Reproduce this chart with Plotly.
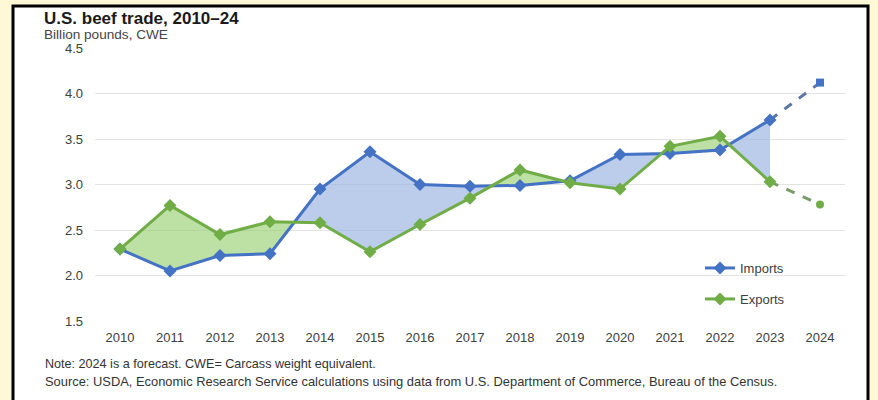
import plotly.graph_objects as go

years = [2010, 2011, 2012, 2013, 2014, 2015, 2016, 2017, 2018, 2019, 2020, 2021, 2022, 2023, 2024]
imports = [2.29, 2.05, 2.22, 2.24, 2.95, 3.36, 3.00, 2.98, 2.99, 3.04, 3.33, 3.34, 3.38, 3.71, 4.12]
exports = [2.29, 2.77, 2.45, 2.59, 2.58, 2.26, 2.56, 2.85, 3.16, 3.02, 2.95, 3.42, 3.53, 3.03, 2.78]
n_actual = 14  # 2010-2023 actual, 2024 forecast

title = "U.S. beef trade, 2010–24"
subtitle = "Billion pounds, CWE"
note1 = "Note: 2024 is a forecast. CWE= Carcass weight equivalent."
note2 = "Source: USDA, Economic Research Service calculations using data from U.S. Department of Commerce, Bureau of the Census."

BLUE = "#4472C4"
GREEN = "#70AD47"
BLUE_FILL = "rgba(150,178,225,0.65)"
GREEN_FILL = "rgba(145,205,105,0.6)"
FONT = "Arial, Liberation Sans, sans-serif"

fig = go.Figure()

def add_poly(xs, ys, color):
    fig.add_trace(go.Scatter(x=xs, y=ys, fill="toself", fillcolor=color, mode="none",
                             line=dict(width=0), showlegend=False, hoverinfo="skip"))

for i in range(n_actual - 1):
    x0, x1 = years[i], years[i + 1]
    a0, a1 = imports[i], imports[i + 1]
    b0, b1 = exports[i], exports[i + 1]
    d0, d1 = b0 - a0, b1 - a1
    if d0 * d1 >= 0:
        col = GREEN_FILL if (d0 + d1) > 0 else BLUE_FILL
        add_poly([x0, x1, x1, x0, x0], [a0, a1, b1, b0, a0], col)
    else:
        t = d0 / (d0 - d1)
        xc = x0 + t * (x1 - x0)
        yc = a0 + t * (a1 - a0)
        add_poly([x0, xc, x0, x0], [a0, yc, b0, a0], GREEN_FILL if d0 > 0 else BLUE_FILL)
        add_poly([xc, x1, x1, xc], [yc, a1, b1, yc], GREEN_FILL if d1 > 0 else BLUE_FILL)

# forecast dashed segments
fig.add_trace(go.Scatter(x=years[n_actual - 1:], y=imports[n_actual - 1:], mode="lines",
                         line=dict(color="#5b75a8", width=3, dash="dash"), showlegend=False, hoverinfo="skip"))
fig.add_trace(go.Scatter(x=years[n_actual - 1:], y=exports[n_actual - 1:], mode="lines",
                         line=dict(color="#7b9c66", width=3, dash="dash"), showlegend=False, hoverinfo="skip"))
fig.add_trace(go.Scatter(x=[years[-1]], y=[imports[-1]], mode="markers",
                         marker=dict(symbol="square", size=8, color=BLUE), showlegend=False))
fig.add_trace(go.Scatter(x=[years[-1]], y=[exports[-1]], mode="markers",
                         marker=dict(symbol="circle", size=8, color=GREEN), showlegend=False))

# actual lines
fig.add_trace(go.Scatter(x=years[:n_actual], y=imports[:n_actual], mode="lines+markers", name="Imports",
                         line=dict(color=BLUE, width=3), marker=dict(symbol="diamond", size=10, color=BLUE),
                         legend="legend"))
fig.add_trace(go.Scatter(x=years[:n_actual], y=exports[:n_actual], mode="lines+markers", name="Exports",
                         line=dict(color=GREEN, width=3), marker=dict(symbol="diamond", size=10, color=GREEN),
                         legend="legend2"))

L, R, T, B = 95, 33, 48, 79
W, H = 878, 400
pw, ph = W - L - R, H - T - B

def px(x):
    return (x - L) / pw

def py(y):
    return (H - B - y) / ph

fig.add_shape(type="rect", xref="paper", yref="paper", x0=px(13), x1=px(868), y0=py(410), y1=py(6),
              line=dict(color="black", width=3), fillcolor="white", layer="below")

fig.add_annotation(text="<b>" + title + "</b>", xref="paper", yref="paper", x=px(42), y=py(7),
                   xanchor="left", yanchor="top", showarrow=False,
                   font=dict(family=FONT, size=17, color="#1a1a1a"))
fig.add_annotation(text=subtitle, xref="paper", yref="paper", x=px(42), y=py(25),
                   xanchor="left", yanchor="top", showarrow=False,
                   font=dict(family=FONT, size=13.6, color="#444444"))
fig.add_annotation(text=note1, xref="paper", yref="paper", x=px(43), y=py(364),
                   xanchor="left", yanchor="middle", showarrow=False,
                   font=dict(family=FONT, size=12.6, color="#333333"))
fig.add_annotation(text=note2, xref="paper", yref="paper", x=px(43), y=py(381),
                   xanchor="left", yanchor="middle", showarrow=False,
                   font=dict(family=FONT, size=12.9, color="#333333"))

legend_font = dict(family=FONT, size=13, color="#404040")
fig.update_layout(
    width=W, height=H,
    margin=dict(l=L, r=R, t=T, b=B),
    paper_bgcolor="#FFF8D6",
    plot_bgcolor="white",
    font=dict(family=FONT, size=13, color="#404040"),
    legend=dict(x=px(700), y=py(268), xanchor="left", yanchor="middle", bgcolor="rgba(0,0,0,0)",
                font=legend_font, itemwidth=30),
    legend2=dict(x=px(700), y=py(299), xanchor="left", yanchor="middle", bgcolor="rgba(0,0,0,0)",
                 font=legend_font, itemwidth=30),
    xaxis=dict(range=[2009.5, 2024.5], tickvals=years, ticktext=[str(y) for y in years],
               showgrid=False, zeroline=False, showline=False, ticks="",
               ticklabelstandoff=7, tickfont=dict(size=13, color="#404040")),
    yaxis=dict(range=[1.5, 4.5], dtick=0.5, tick0=1.5, tickformat=".1f", showgrid=True,
               gridcolor="#e3e3e3", gridwidth=1, zeroline=False, showline=False, ticks="",
               ticklabelstandoff=11, tickfont=dict(size=13, color="#404040")),
)

fig.write_html("out.html", config={"displayModeBar": False},
               post_script="document.body.style.margin='0';document.body.style.background='#FFF8D6';")
